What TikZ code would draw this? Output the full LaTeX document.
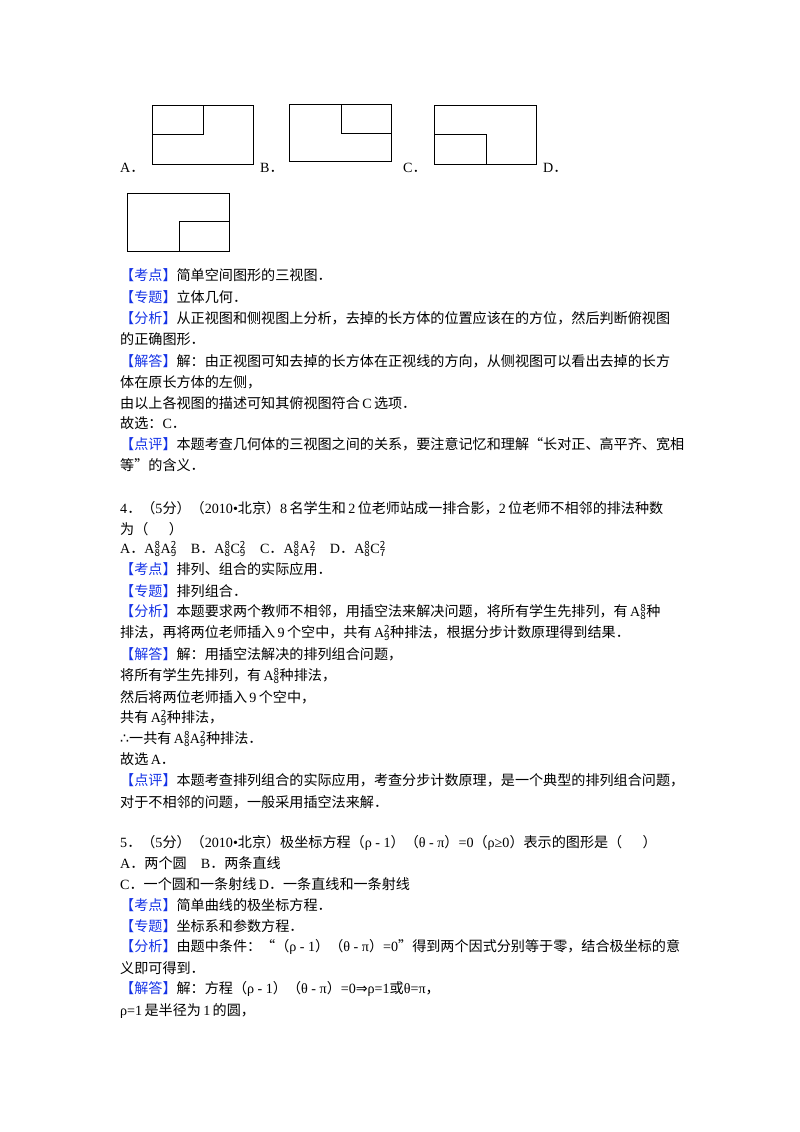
\documentclass[tikz,border=0pt]{standalone}
\usepackage{fontspec}
\setmainfont{Noto Sans CJK SC}
\newfontfamily\lt{Liberation Serif}
\newfontfamily\dvsym{DejaVu Sans}
\definecolor{kb}{RGB}{20,50,230}
\newcommand{\tg}[1]{{\color{kb}【#1】}}
\newcommand{\pmt}[3]{{\lt #1}$_{\mathrm{#2}}^{\mathrm{#3}}$}
\begin{document}
\begin{tikzpicture}[x=1pt,y=-1pt,
  ln/.style={anchor=west,inner sep=0pt,font=\fontsize{14.1}{16}\selectfont},
  fig/.style={line width=1pt}]
\useasboundingbox (0,0) rectangle (800,1132);
% figures
\draw[fig] (152,105) rectangle (253,164) (152,134) -- (203,134) -- (203,105);
\draw[fig] (289,104) rectangle (391,161) (341,104) -- (341,133) -- (391,133);
\draw[fig] (434,105) rectangle (536,164) (434,134) -- (486,134) -- (486,164);
\draw[fig] (127,193) rectangle (229,251) (179,251) -- (179,221) -- (229,221);
\node[ln] (oa) at (120,168) {{\lt A}．};
\node[ln] (ob) at (260,168) {{\lt B}．};
\node[ln] (oc) at (403,168) {{\lt C}．};
\node[ln] (od) at (543,168) {{\lt D}．};
% Q3 solution
\node[ln] (a1) at (120,275) {\tg{考点}简单空间图形的三视图．};
\node[ln] (a2) at (120,297) {\tg{专题}立体几何．};
\node[ln] (a3) at (120,318) {\tg{分析}从正视图和侧视图上分析，去掉的长方体的位置应该在的方位，然后判断俯视图};
\node[ln] (a4) at (120,339) {的正确图形．};
\node[ln] (a5) at (120,361) {\tg{解答}解：由正视图可知去掉的长方体在正视线的方向，从侧视图可以看出去掉的长方};
\node[ln] (a6) at (120,382) {体在原长方体的左侧，};
\node[ln] (a7) at (120,403) {由以上各视图的描述可知其俯视图符合{\lt\,C\,}选项．};
\node[ln] (a8) at (120,423) {故选：{\lt C}．};
\node[ln] (a9) at (120,444) {\tg{点评}本题考查几何体的三视图之间的关系，要注意记忆和理解“长对正、高平齐、宽相};
\node[ln] (a10) at (120,465) {等”的含义．};
% Q4
\node[ln] (b1) at (120,508) {{\lt 4}．（{\lt 5}分）（{\lt 2010•}北京）{\lt 8\,}名学生和{\lt\,2\,}位老师站成一排合影，{\lt 2\,}位老师不相邻的排法种数};
\node[ln] (b2) at (120,529) {为（\quad\ \ ）};
\node[ln] (b3) at (120,549) {{\lt A}．\pmt{A}{8}{8}\pmt{A}{9}{2}\quad{\lt B}．\pmt{A}{8}{8}\pmt{C}{9}{2}\quad{\lt C}．\pmt{A}{8}{8}\pmt{A}{7}{2}\quad{\lt D}．\pmt{A}{8}{8}\pmt{C}{7}{2}};
\node[ln] (b4) at (120,569) {\tg{考点}排列、组合的实际应用．};
\node[ln] (b5) at (120,591) {\tg{专题}排列组合．};
\node[ln] (b6) at (120,612) {\tg{分析}本题要求两个教师不相邻，用插空法来解决问题，将所有学生先排列，有{\,}\pmt{A}{8}{8}种};
\node[ln] (b7) at (120,633) {排法，再将两位老师插入{\lt\,9\,}个空中，共有{\,}\pmt{A}{9}{2}种排法，根据分步计数原理得到结果．};
\node[ln] (b8) at (120,654) {\tg{解答}解：用插空法解决的排列组合问题，};
\node[ln] (b9) at (120,676) {将所有学生先排列，有{\,}\pmt{A}{8}{8}种排法，};
\node[ln] (b10) at (120,697) {然后将两位老师插入{\lt\,9\,}个空中，};
\node[ln] (b11) at (120,718) {共有{\,}\pmt{A}{9}{2}种排法，};
\node[ln] (b12) at (120,739) {{\dvsym ∴}一共有{\,}\pmt{A}{8}{8}\pmt{A}{9}{2}种排法．};
\node[ln] (b13) at (120,759) {故选{\lt\,A}．};
\node[ln] (b14) at (120,780) {\tg{点评}本题考查排列组合的实际应用，考查分步计数原理，是一个典型的排列组合问题，};
\node[ln] (b15) at (120,802) {对于不相邻的问题，一般采用插空法来解．};
% Q5
\node[ln] (c1) at (120,843) {{\lt 5}．（{\lt 5}分）（{\lt 2010•}北京）极坐标方程（{\lt ρ - 1}）（{\lt θ - π}）{\lt =0}（{\lt ρ≥0}）表示的图形是（\quad\ \ ）};
\node[ln] (c2) at (120,863) {{\lt A}．两个圆\quad{\lt B}．两条直线};
\node[ln] (c3) at (120,884) {{\lt C}．一个圆和一条射线{\lt\,D}．一条直线和一条射线};
\node[ln] (c4) at (120,905) {\tg{考点}简单曲线的极坐标方程．};
\node[ln] (c5) at (120,926) {\tg{专题}坐标系和参数方程．};
\node[ln] (c6) at (120,947) {\tg{分析}由题中条件：“（{\lt ρ - 1}）（{\lt θ - π}）{\lt =0}”得到两个因式分别等于零，结合极坐标的意};
\node[ln] (c7) at (120,968) {义即可得到．};
\node[ln] (c8) at (120,989) {\tg{解答}解：方程（{\lt ρ - 1}）（{\lt θ - π}）{\lt =0}{\dvsym ⇒}{\lt ρ=1}或{\lt θ=π}，};
\node[ln] (c9) at (120,1011) {{\lt ρ=1\,}是半径为{\lt\,1\,}的圆，};
\end{tikzpicture}
\end{document}
